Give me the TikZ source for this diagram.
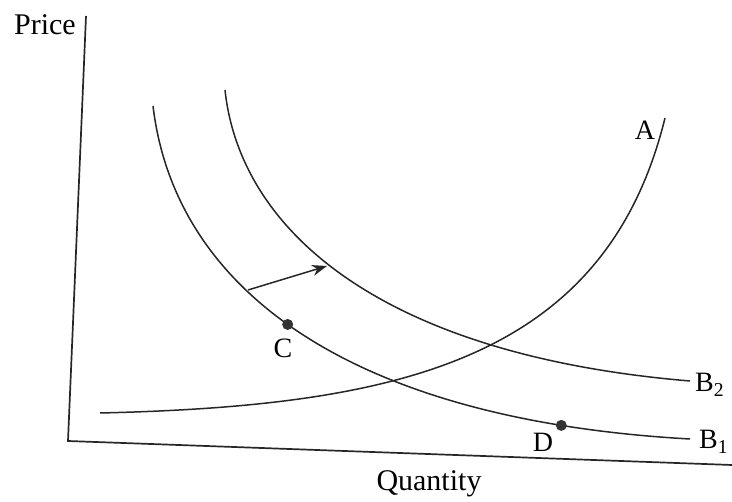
\documentclass[tikz,border=0pt]{standalone}
\usepackage{fontspec}
\setmainfont{Liberation Serif}
\usetikzlibrary{arrows.meta}
\begin{document}
\begin{tikzpicture}[x=1pt,y=-1pt,
  curve/.style={line width=1.5pt,black!85},
  axis/.style={line width=1.7pt,black!85},
  lbl/.style={font=\fontsize{28}{30}\selectfont,inner sep=1pt},
  biglbl/.style={font=\fontsize{30}{32}\selectfont,inner sep=1pt},
  pt/.style={circle,fill=black!80,inner sep=0pt,minimum size=11pt}]
\useasboundingbox (0,0) rectangle (732,502);
% axes
\coordinate (top) at (86,16);
\coordinate (origin) at (68,441);
\coordinate (xend) at (732,465);
\draw[axis] (top) -- (origin) -- (xend);
\node[biglbl,anchor=east] (price) at (77,25) {Price};
\node[biglbl] (qty) at (429,484) {Quantity};
% curve A
\draw[curve] (100,413) .. controls (395,406) and (605,362) .. (665,118);
\node[lbl] (A) at (645,130) {A};
% curve B1
\draw[curve] (153,106) .. controls (175,290) and (350,420) .. (690,439)
  node[pt,pos=0.472] (C) {}
  node[pt,pos=0.865] (D) {};
\node[lbl,anchor=west] (B1) at (698,442) {B\textsubscript{1}};
% curve B2
\draw[curve] (225,90) .. controls (240,230) and (380,355) .. (690,381);
\node[lbl,anchor=west] (B2) at (694,385) {B\textsubscript{2}};
% point labels
\node[lbl] (Clbl) at (283,348) {C};
\node[lbl] (Dlbl) at (543,442) {D};
% shift arrow
\coordinate (as) at (248,290);
\coordinate (ae) at (327,266);
\draw[line width=1.5pt,black!85,-{Stealth[length=15pt,width=11pt]}] (as) -- (ae);
\end{tikzpicture}
\end{document}
